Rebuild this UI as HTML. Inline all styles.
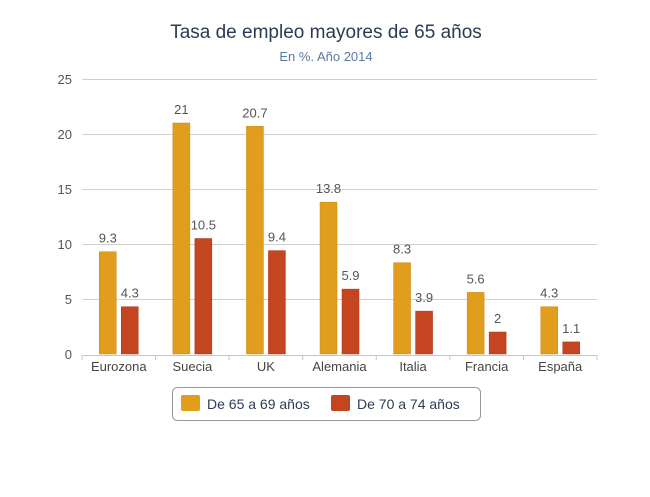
<!DOCTYPE html>
<html><head><meta charset="utf-8"><style>
body{margin:0;background:#fff;}
svg text{font-family:"Liberation Sans","DejaVu Sans",sans-serif;}
</style></head><body>
<svg id="chart" width="650" height="492" xmlns="http://www.w3.org/2000/svg">
<text x="326" y="38" text-anchor="middle" font-size="19" fill="#2b3b55">Tasa de empleo mayores de 65 años</text>
<text x="326" y="61" text-anchor="middle" font-size="13" fill="#5a7aa0">En %. Año 2014</text>
<g id="grid"></g><g id="bars"></g><g id="xaxis"></g>
<g>
<rect x="172.5" y="387.5" width="308" height="33" rx="5" fill="#fff" stroke="#999"/>
<g><rect x="181" y="395" width="19" height="16" rx="2" fill="#e19e1c"/>
<text x="207" y="409" font-size="14" fill="#2b3b55">De 65 a 69 años</text></g>
<g><rect x="331" y="395" width="19" height="16" rx="2" fill="#c4451f"/>
<text x="357" y="409" font-size="14" fill="#2b3b55">De 70 a 74 años</text></g>
</g>
</svg>
<script>
const categories=["Eurozona","Suecia","UK","Alemania","Italia","Francia","España"];
const series6569=[9.3,21,20.7,13.8,8.3,5.6,4.3];
const series7074=[4.3,10.5,9.4,5.9,3.9,2,1.1];
const labels6569=["9.3","21","20.7","13.8","8.3","5.6","4.3"];
const labels7074=["4.3","10.5","9.4","5.9","3.9","2","1.1"];
const yTicks=[0,5,10,15,20,25];
const NS="http://www.w3.org/2000/svg";
const x0=82,x1=597,y0=354,yMax=25,yTop=79;
const y=v=>y0-(v/yMax)*(y0-yTop);
const bw=(x1-x0)/categories.length;
function mk(t,a,p){const e=document.createElementNS(NS,t);for(const k in a)e.setAttribute(k,a[k]);p.appendChild(e);return e;}
const grid=document.getElementById('grid'),bars=document.getElementById('bars'),xa=document.getElementById('xaxis');
yTicks.forEach(t=>{
  if(t>0){const l=mk('line',{x1:x0,x2:x1,y1:y(t)+.5,y2:y(t)+.5,stroke:'#d0d0d0'},grid);
  
  }
  const tx=mk('text',{x:72,y:y(t)+5,'text-anchor':'end','font-size':13,fill:'#555'},grid);tx.textContent=t;
  
  
});
const ax=mk('line',{x1:x0,x2:x1,y1:y0+1.5,y2:y0+1.5,stroke:'#b8c8dc'},xa);


for(let i=0;i<=categories.length;i++){mk('line',{x1:x0+i*bw,x2:x0+i*bw,y1:y0+1,y2:y0+6,stroke:'#b8c8dc'},xa);}
categories.forEach((c,i)=>{
  const cx=x0+bw*(i+.5);
  const t=mk('text',{x:cx,y:y0+17,'text-anchor':'middle','font-size':13,fill:'#444'},xa);t.textContent=c;
  
  
  [[series6569,labels6569,'#e19e1c',cx-19.5],[series7074,labels7074,'#c4451f',cx+2.5]].forEach(([s,lb,col,bx],k)=>{
    const r=mk('rect',{x:bx,y:y(s[i]),width:17,height:y0-y(s[i]),fill:col,stroke:k?'#a8381a':'#c88a18','stroke-width':0.5},bars);
    
    
    const v=mk('text',{x:bx+8.5,y:y(s[i])-9,'text-anchor':'middle','font-size':13,fill:'#555'},bars);v.textContent=lb[i];
    
    
  });
});
</script>
</body></html>
